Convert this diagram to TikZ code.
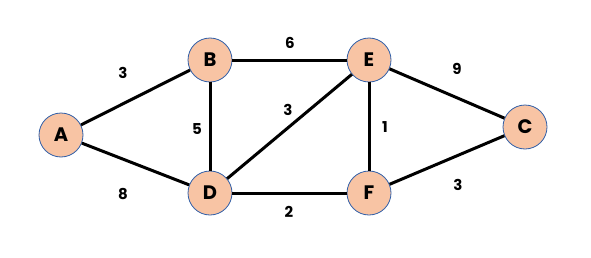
\documentclass[tikz,border=0pt]{standalone}
\usepackage{fontspec}
\setmainfont{Poppins}
\begin{document}
\begin{tikzpicture}[x=1pt,y=-1pt,
  vtx/.style={circle,draw=rimblue,line width=0.8pt,fill=peach,minimum size=44pt,inner sep=0pt,font=\fontsize{19.5}{19.5}\selectfont\bfseries},
  edge/.style={line width=3pt,black},
  wlab/.style={font=\fontsize{15}{15}\selectfont\bfseries,inner sep=0pt}]
\definecolor{peach}{HTML}{F8C4A4}
\definecolor{rimblue}{HTML}{2F5EA8}
\useasboundingbox (0,0) rectangle (591,257);
\node[vtx] (A) at (61,135) {A};
\node[vtx] (B) at (210,60) {B};
\node[vtx] (E) at (369,60) {E};
\node[vtx] (C) at (525,127) {C};
\node[vtx] (D) at (210,193) {D};
\node[vtx] (F) at (369,193) {F};
\draw[edge] (A) -- (B);
\draw[edge] (A) -- (D);
\draw[edge] (B) -- (E);
\draw[edge] (B) -- (D);
\draw[edge] (D) -- (E);
\draw[edge] (D) -- (F);
\draw[edge] (E) -- (F);
\draw[edge] (E) -- (C);
\draw[edge] (F) -- (C);
\node[wlab] (l1) at (123,73) {3};
\node[wlab] (l2) at (123,194) {8};
\node[wlab] (l3) at (290,43) {6};
\node[wlab] (l4) at (197,129) {5};
\node[wlab] (l5) at (288,110) {3};
\node[wlab] (l6) at (385,127) {1};
\node[wlab] (l7) at (289,212) {2};
\node[wlab] (l8) at (457,69) {9};
\node[wlab] (l9) at (458,185) {3};
\end{tikzpicture}
\end{document}
